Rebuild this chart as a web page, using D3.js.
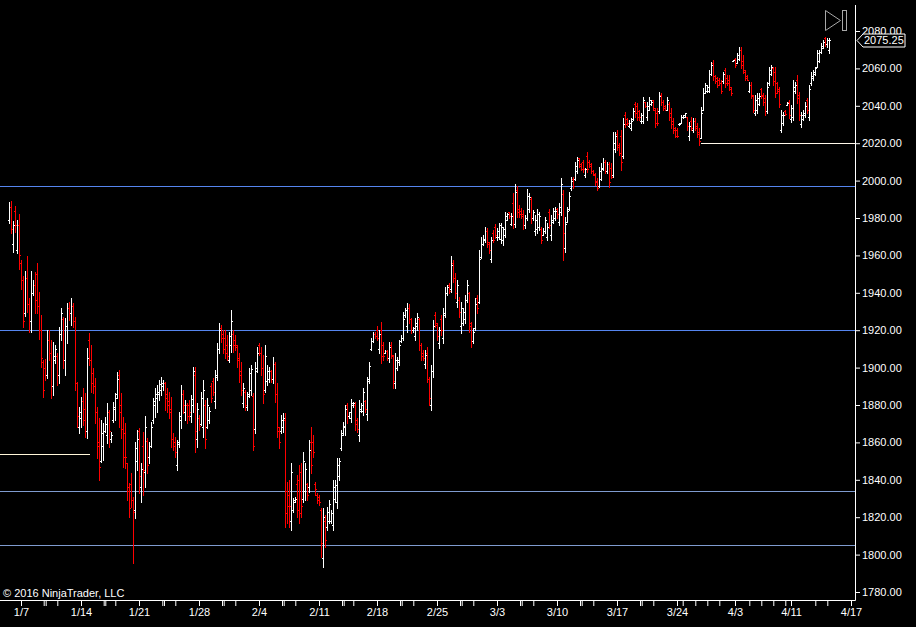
<!DOCTYPE html>
<html>
<head>
<meta charset="utf-8">
<script src="https://cdn.jsdelivr.net/npm/d3@7"></script>
<style>
  html, body { margin: 0; padding: 0; background: #000; overflow: hidden; }
</style>
</head>
<body>
<div id="chart"></div>
<script>
// 4-hour OHLC bars (bar index 0 = first bar on the left)
const highs = [
  1988.5,1989,1978.4,1986.4,1978.9,1982.1,1957.5,1948.9,1951.6,1959.6,
  1937.3,1951.6,1946.8,1951.1,1955.9,1940.5,1928.2,1904.1,1904.6,1920.2,
  1920.2,1914.8,1913.8,1912.2,1907.9,1921.8,1931.9,1927.1,1926.6,1934.6,
  1935.1,1937.3,1934.6,1927.1,1892.3,1879.0,1884.3,1889.2,1886.5,1910.6,
  1918.6,1912.2,1899.9,1894.5,1879.0,1873.1,1872.0,1870.4,1873.6,1881.1,
  1877.4,1865.6,1881.6,1886.5,1897.8,1898.8,1886.5,1873.6,1870.4,1849.0,
  1838.3,1843.6,1830.8,1860.2,1866.7,1867.7,1849.0,1865.6,1874.1,1862.4,
  1860.2,1870.9,1883.8,1889.2,1890.8,1893.4,1895.0,1893.4,1892.3,1889.2,
  1887.0,1884.3,1865.1,1862.9,1861.3,1876.3,1890.8,1888.1,1882.7,1881.1,
  1882.7,1885.4,1900.4,1900.4,1881.1,1874.7,1887.0,1893.4,1882.7,1883.8,
  1879.0,1891.8,1894.5,1898.8,1913.2,1923.9,1922.8,1920.2,1920.2,1917.5,
  1919.1,1930.8,1920.2,1917.5,1912.2,1907.9,1903.1,1891.8,1888.1,1887.0,
  1899.9,1901.5,1886.5,1903.1,1911.1,1913.2,1911.1,1906.8,1912.2,1901.5,
  1900.4,1898.8,1905.7,1903.1,1891.8,1868.3,1874.7,1875.8,1875.8,1838.8,
  1839.9,1849.0,1830.3,1830.8,1842.6,1848.0,1849.0,1854.9,1849.0,1838.3,
  1861.3,1868.3,1864.0,1838.8,1832.9,1831.9,1824.9,1824.9,1821.2,1825.5,
  1829.2,1823.9,1839.9,1839.9,1851.7,1851.7,1866.7,1870.9,1880.0,1881.1,
  1876.3,1883.2,1881.6,1881.6,1873.1,1882.7,1881.1,1889.2,1882.7,1895.0,
  1903.1,1915.9,1919.1,1919.1,1922.3,1920.2,1924.4,1913.8,1909.5,1909.5,
  1913.8,1913.8,1906.8,1907.9,1905.7,1914.8,1917.5,1929.8,1931.9,1934.6,
  1934.1,1926.6,1921.8,1926.6,1929.2,1926.6,1913.2,1909.5,1909.5,1911.1,
  1895.0,1901.5,1925.5,1929.8,1923.9,1921.8,1928.2,1931.9,1943.1,1944.2,
  1945.3,1959.6,1957.5,1950.5,1946.8,1937.8,1935.1,1931.9,1938.8,1946.8,
  1940.5,1924.4,1921.2,1937.3,1938.8,1962.9,1969.8,1970.9,1975.2,1974.6,
  1967.2,1969.8,1973.6,1976.8,1974.6,1977.3,1977.3,1975.2,1983.2,1982.7,
  1983.2,1982.7,1993.4,1998.2,1997.1,1986.9,1985.3,1984.3,1981.6,1995.5,
  1993.4,1991.2,1984.3,1981.6,1984.8,1983.2,1975.2,1974.6,1980.5,1977.3,
  1984.8,1981.6,1985.3,1985.9,1985.3,1988.0,2001.4,1995.0,1980.5,1985.9,
  1993.9,2001.9,2001.9,2010.0,2012.6,2012.1,2009.4,2011.0,2006.8,2015.3,
  2011.0,2009.4,2005.7,2004.0,2001.4,2007.3,2009.4,2012.1,2011.0,2010.0,
  2010.0,2009.4,2026.0,2026.0,2027.1,2020.1,2027.1,2033.5,2036.7,2033.5,
  2032.4,2033.5,2038.8,2042.0,2041.5,2037.8,2036.1,2044.7,2042.0,2042.0,
  2044.7,2043.1,2043.1,2038.8,2038.8,2047.4,2046.8,2043.1,2040.4,2044.7,
  2042.0,2038.8,2033.5,2028.7,2028.1,2030.8,2035.1,2035.1,2036.1,2034.0,
  2031.3,2034.0,2033.5,2033.5,2030.8,2028.1,2039.4,2049.5,2052.2,2051.1,
  2059.2,2063.4,2064.5,2056.5,2055.4,2054.9,2053.8,2058.1,2060.2,2056.5,
  2056.5,2050.1,2064.5,2065.6,2068.2,2071.5,2071.5,2067.2,2059.2,2056.5,
  2052.7,2052.7,2045.8,2045.8,2046.8,2046.8,2049.5,2046.8,2045.8,2052.7,
  2060.8,2061.8,2060.8,2060.8,2052.7,2050.1,2037.8,2036.7,2037.8,2042.0,
  2043.1,2040.4,2053.8,2052.7,2056.5,2047.4,2036.7,2037.8,2042.0,2044.2,
  2051.1,2058.1,2059.2,2060.8,2069.9,2069.9,2073.6,2075.2,2076.8,2076.3,2076.3
];
const lows = [
  1977.3,1972,1961.8,1972.5,1961.3,1952.7,1941.9,1921.8,1927.6,1929.8,
  1919.1,1919.1,1938.8,1929.2,1929.2,1915.3,1900.4,1884.3,1893.4,1894.5,
  1904.1,1883.8,1885.4,1902.5,1890.8,1891.8,1914.8,1899.8,1896.1,1913.2,
  1925.5,1922.8,1921.8,1888.1,1868.3,1865.1,1868.3,1869.3,1862.9,1862.4,
  1901.5,1887.0,1886.5,1870.4,1851.7,1839.9,1849.6,1850.6,1865.6,1859.7,
  1857.5,1860.2,1870.9,1872.0,1883.8,1868.3,1862.4,1846.9,1846.4,1829.2,
  1820.1,1825.5,1795.5,1819.6,1845.3,1832.9,1828.2,1831.9,1836.2,1843.7,
  1849.0,1857.5,1870.4,1873.6,1876.3,1882.7,1885.4,1888.1,1877.4,1876.3,
  1873.1,1857.5,1855.9,1852.2,1845.3,1857.5,1867.7,1875.8,1872.0,1870.4,
  1872.0,1870.9,1876.3,1854.9,1857.5,1866.7,1869.3,1862.9,1857.0,1867.7,
  1870.4,1881.6,1885.4,1878.4,1893.4,1907.9,1913.8,1907.9,1905.2,1904.1,
  1903.1,1908.4,1908.4,1909.5,1900.4,1892.3,1885.4,1879.0,1877.4,1877.4,
  1884.3,1885.4,1855.9,1865.1,1897.8,1906.8,1896.1,1881.1,1887.0,1890.8,
  1892.3,1892.3,1891.8,1881.6,1862.9,1857.0,1865.1,1865.6,1814.8,1816.9,
  1814.8,1813.2,1822.8,1828.2,1820.1,1816.9,1820.1,1828.2,1829.2,1829.2,
  1833.5,1843.7,1852.2,1831.9,1827.6,1826.5,1798.7,1793.4,1804.1,1813.2,
  1816.9,1816.9,1813.2,1828.2,1824.9,1839.9,1855.9,1864.0,1864.0,1870.4,
  1873.1,1870.9,1879.0,1866.7,1865.6,1860.8,1876.3,1874.7,1876.3,1872.0,
  1891.8,1909.5,1913.8,1915.9,1914.8,1907.9,1902.5,1904.1,1907.9,1904.1,
  1903.1,1905.2,1889.2,1889.2,1898.8,1901.5,1913.8,1914.8,1927.1,1919.1,
  1923.9,1918.6,1919.1,1914.8,1920.2,1909.5,1904.1,1904.1,1899.9,1892.3,
  1880.0,1877.4,1895.0,1921.8,1914.8,1910.6,1917.5,1913.2,1927.1,1938.8,
  1939.9,1940.5,1945.8,1937.3,1932.5,1927.1,1918.6,1922.8,1923.9,1935.1,
  1919.1,1911.1,1913.2,1920.2,1929.2,1934.6,1958.6,1965.6,1967.2,1964.5,
  1961.3,1956.4,1967.2,1969.3,1968.2,1968.8,1966.6,1965.6,1969.8,1978.9,
  1980.0,1976.2,1974.6,1975.2,1980.5,1980.5,1980.0,1974.1,1974.6,1978.9,
  1983.2,1977.3,1978.9,1970.9,1971.9,1973.6,1966.6,1970.9,1971.9,1968.2,
  1974.6,1968.2,1977.3,1978.9,1980.0,1976.2,1981.6,1957.5,1961.8,1977.8,
  1984.3,1995.0,1996.1,2000.3,2004.0,2007.3,2005.7,2004.6,2001.9,2004.6,
  2007.3,2004.0,2003.0,1997.7,1995.0,1996.6,2000.3,2005.7,2004.0,2004.0,
  1996.6,2001.4,2001.9,2015.3,2016.4,2013.7,2005.7,2012.1,2028.7,2029.8,
  2028.7,2027.1,2032.4,2034.0,2032.4,2032.4,2030.8,2030.8,2039.4,2032.4,
  2037.8,2040.4,2037.8,2028.7,2029.8,2036.1,2040.4,2037.8,2037.8,2037.8,
  2032.4,2028.1,2025.5,2023.3,2023.3,2029.8,2030.8,2033.5,2034.0,2027.1,
  2021.7,2027.1,2026.0,2027.1,2023.3,2019.0,2022.8,2037.8,2046.8,2047.4,
  2047.4,2056.5,2053.8,2052.2,2050.1,2051.1,2046.8,2052.2,2050.1,2051.1,
  2048.5,2045.8,2064.0,2060.8,2062.9,2064.5,2060.2,2057.5,2053.8,2053.8,
  2047.4,2044.2,2036.7,2035.1,2036.1,2040.4,2044.2,2040.4,2035.1,2036.1,
  2051.1,2056.5,2051.1,2044.7,2046.8,2039.4,2026.0,2029.8,2035.1,2040.4,
  2033.5,2031.3,2032.4,2046.8,2041.5,2032.4,2028.7,2032.4,2034.0,2036.1,
  2032.4,2051.1,2053.8,2056.5,2060.8,2063.4,2068.3,2070.9,2072,2071.5,2068.3
];
const opens = [
  1979,1986,1966,1984,1963,1976,1956,1947,1929,1948,
  1934,1925,1940,1944,1950,1933,1920,1903,1900,1896,
  1915,1908,1890,1904,1906,1896,1918,1926,1904,1922,
  1932,1929,1933,1925,1892,1868,1873,1882,1878,1866,
  1915,1904,1897,1890,1876,1860,1850,1858,1866,1864,
  1876,1862,1872,1878,1886,1896,1880,1867,1865,1849,
  1834,1838,1829,1824,1850,1866,1836,1858,1844,1861,
  1852,1858,1872,1880,1884,1886,1888,1890,1892,1886,
  1882,1878,1862,1860,1848,1860,1872,1886,1876,1880,
  1880,1874,1880,1896,1862,1873,1870,1868,1880,1868,
  1872,1890,1893,1882,1895,1910,1921,1918,1916,1912,
  1904,1912,1918,1915,1911,1905,1898,1881,1887,1879,
  1886,1888,1885,1867,1900,1912,1908,1900,1888,1893,
  1894,1898,1894,1902,1886,1866,1866,1868,1872,1834,
  1832,1818,1824,1829,1838,1840,1844,1830,1834,1838,
  1836,1860,1860,1838,1832,1831,1824,1798,1818,1815,
  1818,1818,1816,1830,1828,1842,1857,1865,1868,1880,
  1874,1873,1880,1880,1872,1864,1877,1877,1882,1875,
  1894,1910,1914,1918,1920,1910,1920,1912,1908,1909,
  1905,1912,1906,1892,1900,1903,1914,1916,1928,1922,
  1932,1926,1920,1917,1922,1926,1912,1908,1902,1908,
  1894,1880,1898,1928,1923,1913,1926,1916,1928,1940,
  1944,1942,1956,1948,1935,1936,1922,1924,1926,1936,
  1940,1922,1914,1921,1937,1935,1959,1966,1968,1973,
  1966,1958,1972,1975,1970,1970,1969,1968,1971,1979,
  1983,1977,1988,1977,1995,1985,1984,1982,1976,1980,
  1985,1990,1980,1973,1974,1975,1974,1971,1973,1970,
  1983,1971,1978,1980,1985,1978,1983,1993,1964,1978,
  1985,1996,2001,2001,2005,2012,2009,2010,2003,2013,
  2010,2009,2005,2003,2000,1997,2001,2006,2010,2005,
  2009,2007,2003,2017,2025,2019,2024,2013,2035,2033,
  2029,2028,2033,2041,2040,2037,2032,2032,2042,2034,
  2038,2041,2043,2038,2036,2037,2046,2042,2040,2038,
  2041,2036,2032,2028,2027,2030,2031,2034,2034,2034,
  2024,2032,2027,2032,2029,2026,2023,2038,2047,2048,
  2048,2057,2063,2056,2055,2054,2052,2053,2059,2055,
  2054,2049,2064,2065,2063,2065,2070,2064,2058,2056,
  2048,2051,2045,2036,2038,2041,2049,2046,2044,2037,
  2052,2057,2060,2058,2052,2049,2027,2031,2037,2040.5,
  2042,2033,2034,2048,2054,2046,2030,2033,2035,2043,
  2034,2052,2055,2057,2061,2064,2069,2071,2076,2073,2070
];
const closes = [
  1986,1974,1976,1976,1976,1960,1947,1925,1948,1934,
  1925,1940,1944,1936,1933,1920,1905,1888,1896,1915,
  1908,1890,1906,1910,1896,1918,1929,1904,1922,1932,
  1929,1933,1925,1892,1874,1876,1882,1872,1866,1905,
  1904,1892,1890,1876,1858,1847,1865,1866,1870,1876,
  1866,1864,1879,1884,1894,1876,1867,1852,1852,1836,
  1825,1829,1823,1857,1862,1842,1846,1845,1868,1848,
  1858,1868,1882,1886,1887,1891,1892,1892,1884,1880,
  1876,1862,1858,1855,1859,1874,1886,1880,1880,1874,
  1876,1883,1898,1866,1878,1869,1884,1888,1862,1880,
  1877,1884,1887,1896,1910,1920,1916,1910,1908,1906,
  1917,1925,1912,1912,1904,1896,1888,1889,1880,1885,
  1897,1899,1858,1898,1908,1908,1900,1886,1906,1898,
  1898,1894,1902,1886,1868,1860,1872,1873,1822,1826,
  1826,1844,1828,1830,1824,1822,1826,1850,1846,1832,
  1856,1848,1855,1835,1829,1828,1806,1820,1808,1823,
  1827,1822,1836,1837,1848,1850,1864,1869,1878,1874,
  1876,1881,1881,1870,1867,1878,1880,1887,1878,1893,
  1901,1914,1918,1917,1916,1918,1906,1906,1909,1905,
  1911,1907,1893,1904,1904,1912,1916,1926,1931,1932,
  1926,1920,1921,1924,1927,1912,1906,1905,1907,1894,
  1884,1898,1922,1924,1917,1920,1920,1929,1940,1943,
  1941,1955,1948,1940,1944,1930,1932,1930,1936,1944,
  1924,1914,1919,1934,1932,1958,1966,1969,1973,1967,
  1963,1968,1968,1971,1973,1976,1975,1974,1981,1982,
  1981,1981,1977,1994,1983,1982,1981,1976,1980,1992,
  1991,1980,1983,1979,1982,1981,1968,1973,1979,1975,
  1976,1979,1984,1984,1982,1986,1998,1972,1977,1984,
  1992,2000,1997,2008,2011,2008,2006,2006,2006,2006,
  2008,2005,2003.5,1999,1996,2005,2007,2010,2005,2009,
  1999,2002,2020,2024,2018,2015,2010,2030,2030,2031,
  2031,2032,2037,2036,2034,2034,2035,2043,2040,2040,
  2043,2042,2039,2031,2031,2045,2042,2039,2038,2043,
  2034,2030,2027,2024,2024,2030.5,2034,2035,2036,2029,
  2029,2028,2032,2028,2025,2021,2036,2047,2051,2050,
  2057,2062,2056,2053,2051,2052,2048,2057,2052,2052,
  2050,2047,2064.5,2062,2067,2070,2062,2059,2055,2054,
  2051,2046,2038,2043,2044,2045,2045,2042,2037,2050,
  2059,2061,2053,2047,2048,2041,2035,2035,2035.5,2041.5,
  2035,2039,2050,2051,2044,2035,2035,2036,2040,2038,
  2049,2056,2058,2060,2068,2069,2072,2074,2073,2075,2075.25
];

// Price axis ticks
const priceTicks = d3.range(1780, 2081, 20);

// Date axis: labelled ticks and unlabelled ticks, in bar-index units
const dateTickIdx = [6, 36, 65, 95, 125, 155, 184, 214, 244, 274, 304, 334, 363, 391, 421];
const dateTickLabels = ["1/7", "1/14", "1/21", "1/28", "2/4", "2/11", "2/18", "2/25",
  "3/3", "3/10", "3/17", "3/24", "4/3", "4/11", "4/17"];
const minorTickIdx = [17.35, 18.35, 24.15, 47.35, 48.15, 53.15, 76.65, 77.5, 83.15,
  106.5, 107.35, 113.15, 136.5, 137.35, 143.15, 166.5, 167.35, 172.15,
  195.5, 196.35, 202.15, 225.5, 226.35, 232.15, 255.5, 256.35, 262.15,
  285.5, 286.35, 292.15, 315.5, 316.35, 322.15, 336.85, 343.15, 349.15, 355.15,
  370.15, 376.15, 382.15, 388.15, 403.15, 409.15];

// Drawn horizontal levels
const blueLevels = [1997, 1920];
const paleLevels = [1834, 1805];
const shortLevel = 1854, shortLevelEndIdx = 40.5;
const entryLevel = 2020, entryLevelStartIdx = 346;

// Chart settings
const width = 916;
const height = 627;
const plotRight = 855;
const plotBottom = 600;
const font = "'Liberation Sans', Arial, sans-serif";

const svg = d3.select("#chart")
  .append("svg")
  .attr("width", width)
  .attr("height", height)
  .style("display", "block")
  .style("background", "#000");

const n = Math.min(highs.length, lows.length, opens.length, closes.length);
const bars = d3.range(n).map(i => ({ i, o: opens[i], h: highs[i], l: lows[i], c: closes[i] }));

const x = d3.scaleLinear().domain([0, 410]).range([9, 829]);
const y = d3.scaleLinear().domain([1780, 2080]).range([592, 31]);

svg.append("clipPath").attr("id", "plot-clip")
  .append("rect").attr("x", 0).attr("y", 0).attr("width", plotRight).attr("height", plotBottom);

const plot = svg.append("g").attr("clip-path", "url(#plot-clip)");

//Horizontal levels
const py = v => Math.round(y(v)) + 0.5;
plot.selectAll(".blue-level").data(blueLevels).join("line")
  .attr("x1", 0).attr("x2", plotRight)
  .attr("y1", py).attr("y2", py)
  .attr("stroke", "#5585ee").attr("stroke-width", 1);
plot.selectAll(".pale-level").data(paleLevels).join("line")
  .attr("x1", 0).attr("x2", plotRight)
  .attr("y1", py).attr("y2", py)
  .attr("stroke", "#7f9bcf").attr("stroke-width", 1);
plot.append("line")
  .attr("x1", 0).attr("x2", x(shortLevelEndIdx))
  .attr("y1", py(shortLevel)).attr("y2", py(shortLevel))
  .attr("stroke", "#fff6d8");
plot.append("line")
  .attr("x1", x(entryLevelStartIdx)).attr("x2", plotRight)
  .attr("y1", py(entryLevel)).attr("y2", py(entryLevel))
  .attr("stroke", "#fff8ea");

//OHLC bars
const barG = plot.append("g").attr("shape-rendering", "crispEdges");
const bar = barG.selectAll("g").data(bars).join("g")
  .attr("fill", d => d.c >= d.o ? "#ffffff" : "#ff0000");
const bx = d => Math.round(x(d.i));
bar.append("rect")
  .attr("x", bx)
  .attr("y", d => Math.round(y(d.h)))
  .attr("width", 1)
  .attr("height", d => Math.max(1, Math.round(y(d.l)) - Math.round(y(d.h)) + 1));
bar.append("rect")
  .attr("x", d => bx(d) - 1)
  .attr("y", d => Math.round(y(d.o)))
  .attr("width", 1).attr("height", 1);
bar.append("rect")
  .attr("x", d => bx(d) + 1)
  .attr("y", d => Math.round(y(d.c)))
  .attr("width", 1).attr("height", 1);

//Axis frame
svg.append("line")
  .attr("x1", plotRight + 0.5).attr("x2", plotRight + 0.5)
  .attr("y1", 5).attr("y2", plotBottom + 0.5)
  .attr("stroke", "#fff");
svg.append("line")
  .attr("x1", 0).attr("x2", plotRight + 0.5)
  .attr("y1", plotBottom + 0.5).attr("y2", plotBottom + 0.5)
  .attr("stroke", "#fff");

//Price axis
const gy = svg.append("g")
  .attr("transform", `translate(${plotRight},0)`)
  .call(d3.axisRight(y).tickValues(priceTicks).tickFormat(d => d.toFixed(2)).tickSize(5).tickPadding(2));
gy.select(".domain").remove();
gy.attr("font-family", font).attr("font-size", 11);
gy.selectAll("line").attr("stroke", "#fff");
gy.selectAll("text").attr("fill", "#fff");

//Date axis
const gx = svg.append("g")
  .attr("transform", `translate(0,${plotBottom})`)
  .call(d3.axisBottom(x).tickValues(dateTickIdx).tickFormat((d, i) => dateTickLabels[i]).tickSize(6).tickPadding(2));
gx.select(".domain").remove();
gx.attr("font-family", font).attr("font-size", 11);
gx.selectAll("line").attr("stroke", "#fff");
gx.selectAll("text").attr("fill", "#fff");

const gxm = svg.append("g")
  .attr("transform", `translate(0,${plotBottom})`)
  .call(d3.axisBottom(x).tickValues(minorTickIdx).tickFormat("").tickSize(6));
gxm.select(".domain").remove();
gxm.selectAll("line").attr("stroke", "#fff");

//Last price marker
const last = bars[n - 1];
const ly = Math.round(y(last.c)) + 0.5;
svg.append("path")
  .attr("d", `M${plotRight + 2},${ly} L${plotRight + 8},${ly - 6.5} H${plotRight + 50} V${ly + 6.5} H${plotRight + 8} Z`)
  .attr("fill", "#000")
  .attr("stroke", "#fff");
svg.append("text")
  .attr("x", plotRight + 9)
  .attr("y", ly)
  .attr("dy", "0.36em")
  .attr("font-family", font)
  .attr("font-size", 11)
  .attr("fill", "#fff")
  .text(last.c.toFixed(2));

//Scroll-to-end button
svg.append("path")
  .attr("d", "M825.5,10.5 L825.5,30.5 L840.5,20.5 Z")
  .attr("fill", "none").attr("stroke", "#a8a8a8");
svg.append("rect")
  .attr("x", 842.5).attr("y", 10.5).attr("width", 4).attr("height", 20)
  .attr("fill", "none").attr("stroke", "#a8a8a8");

//Copyright
svg.append("text")
  .attr("x", 3)
  .attr("y", 597)
  .attr("font-family", font)
  .attr("font-size", 11)
  .attr("fill", "#fff")
  .text("© 2016 NinjaTrader, LLC");
</script>
</body>
</html>
